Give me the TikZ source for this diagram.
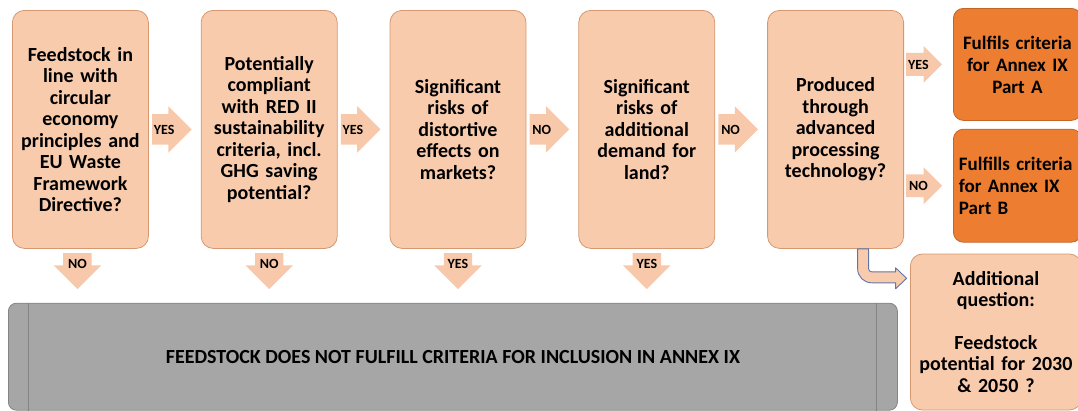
\documentclass[tikz,border=0pt]{standalone}
\usepackage{fontspec}
\setmainfont{Carlito}
\usetikzlibrary{positioning,calc,shapes.arrows}
\definecolor{PeachFill}{RGB}{248,203,173}
\definecolor{PeachLine}{RGB}{214,152,112}
\definecolor{PeachArrow}{RGB}{247,201,170}
\definecolor{OrangeFill}{RGB}{237,125,49}
\definecolor{OrangeLine}{RGB}{196,100,38}
\definecolor{GreyFill}{RGB}{166,166,166}
\definecolor{GreyLine}{RGB}{132,132,132}
\definecolor{BlueLine}{RGB}{96,118,170}
\tikzset{
  qbox/.style={draw=PeachLine, line width=0.8pt, rounded corners=12pt, fill=PeachFill,
    align=center, text width=#1, minimum width=136pt, minimum height=238pt, inner sep=0pt,
    font=\fontsize{20}{21.5}\selectfont\bfseries},
  qbox/.default=128pt,
  partbox/.style={draw=OrangeLine, line width=0.8pt, rounded corners=10pt, fill=OrangeFill,
    align=center, text width=117pt, minimum width=128pt, minimum height=#1, inner xsep=5.5pt,
    font=\fontsize{19}{22}\selectfont\bfseries},
  partbox/.default=112pt,
  extrabox/.style={draw=PeachLine, line width=0.8pt, rounded corners=12pt, fill=PeachFill,
    align=center, text width=164pt, minimum width=171pt, minimum height=156pt, inner sep=0pt,
    font=\fontsize{20}{21.5}\selectfont\bfseries},
  rejectbox/.style={draw=GreyLine, line width=0.8pt, rounded corners=8pt, fill=GreyFill,
    minimum width=889pt, minimum height=107pt, font=\fontsize{20}{22}\selectfont\bfseries},
  % ---- block arrows ----
  sidearrow/.style={single arrow, fill=PeachArrow, draw=none, single arrow head extend=8pt,
    text width=22pt, align=center, text height=9.5pt, text depth=0pt,
    inner xsep=1pt, inner ysep=10.25pt, font=\fontsize{14}{14}\selectfont\bfseries},
  smallarrow/.style={sidearrow, single arrow head extend=7pt, inner ysep=6.5pt},
  downarrow/.style={sidearrow, shape border rotate=270, single arrow head extend=9.5pt,
    inner xsep=3pt, inner ysep=6pt},
  bentarrow/.style={draw=BlueLine, fill=PeachFill, line width=0.9pt, line join=round},
}
\begin{document}
\begin{tikzpicture}
  \useasboundingbox (0,0) rectangle (1078pt,-410pt);

  \node[qbox, anchor=north west] (feed) at (12pt,-10pt)
    {Feedstock in\\ line with\\ circular\\ economy\\ principles and\\ EU Waste\\ Framework\\ Directive?};
  \node[qbox, right=52pt of feed] (red)
    {Potentially\\ compliant\\ with RED II\\ sustainability\\ criteria, incl.\\ GHG saving\\ potential?};
  \node[qbox, right=52pt of red] (market)
    {Significant\\ risks of\\ distortive\\ effects on\\ markets?};
  \node[qbox, right=52pt of market] (land)
    {Significant\\ risks of\\ additional\\ demand for\\ land?};
  \node[qbox, right=52pt of land] (tech)
    {Produced\\ through\\ advanced\\ processing\\ technology?};

  \node[partbox, anchor=north west] (partA) at ($(tech.north east)+(49pt,2pt)$)
    {Fulfils criteria\\ for Annex IX\\ Part A};
  \node[partbox=113pt, align=left, below=8pt of partA] (partB)
    {Fulfills criteria\\ for Annex IX\\ Part B};
  \node[extrabox, anchor=north east] (extra) at ($(partB.south east)+(0,-11pt)$)
    {Additional\\ question:\\[21pt] Feedstock\\ potential for 2030\\ \& 2050 ?};

  \node[rejectbox, anchor=north west] (reject) at ($(feed.south west)+(-4pt,-54pt)$)
    {FEEDSTOCK DOES NOT FULFILL CRITERIA FOR INCLUSION IN ANNEX IX};
  \draw[GreyLine, line width=0.8pt] ($(reject.north west)+(20pt,0)$) -- ($(reject.south west)+(20pt,0)$);
  \draw[GreyLine, line width=0.8pt] ($(reject.north east)+(-21pt,0)$) -- ($(reject.south east)+(-21pt,0)$);

  \node[sidearrow, anchor=tail] (a1) at ($(feed.east)+(3pt,0)$) {YES};
  \node[sidearrow, anchor=tail] (a2) at ($(red.east)+(3pt,0)$) {YES};
  \node[sidearrow, anchor=tail] (a3) at ($(market.east)+(3pt,0)$) {NO};
  \node[sidearrow, anchor=tail] (a4) at ($(land.east)+(3pt,0)$) {NO};
  \node[smallarrow, anchor=tail] (a5) at ($(tech.east |- partA.west)+(2pt,0)$) {YES};
  \node[smallarrow, anchor=tail] (a6) at ($(tech.east |- partB.west)+(2pt,0)$) {NO};

  \node[downarrow, anchor=tail] (d1) at ($(feed.south)+(-3pt,-4pt)$) {NO};
  \node[downarrow, anchor=tail] (d2) at ($(red.south)+(0,-4pt)$) {NO};
  \node[downarrow, anchor=tail] (d3) at ($(market.south)+(0,-4pt)$) {YES};
  \node[downarrow, anchor=tail] (d4) at ($(land.south)+(0,-4pt)$) {YES};

  % bent arrow towards the additional question
  \draw[bentarrow] ($(tech.south)+(22pt,0)$) -- ++(0,-20pt)
    arc[start angle=180, end angle=270, radius=14pt] -- ++(24pt,0) -- ++(0,-6pt)
    -- ++(11pt,10.5pt) -- ++(-11pt,10.5pt) -- ++(0,-4pt) -- ++(-24pt,0)
    arc[start angle=270, end angle=180, radius=3pt] -- ++(0,20pt) -- cycle;
\end{tikzpicture}
\end{document}
